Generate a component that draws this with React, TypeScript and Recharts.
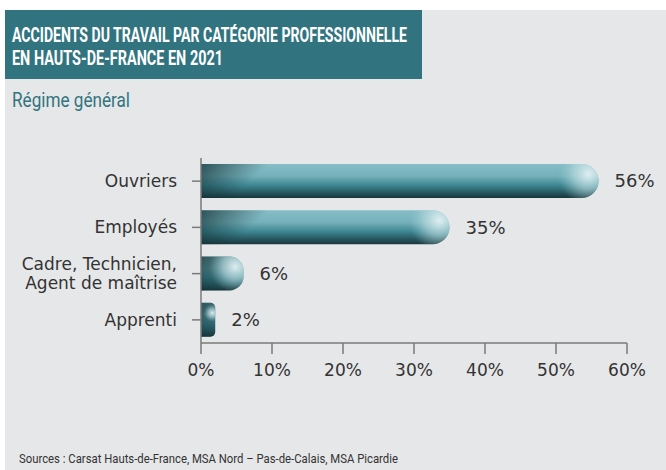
import { BarChart, Bar, XAxis, YAxis, LabelList } from 'recharts';

const categories = ['Ouvriers', 'Employés', 'Cadre, Technicien,\nAgent de maîtrise', 'Apprenti'];
const shares = [56, 35, 6, 2];
const xTicks = [0, 10, 20, 30, 40, 50, 60];

const data = categories.map((name, i) => ({ name, value: shares[i] }));

const TEAL = '#31747f';
const AXIS = '#7a7a7a';
const HEAD_FONT = 'Roboto, "DejaVu Sans", sans-serif';
const FONT = '"DejaVu Sans", Roboto, sans-serif';

// bar with square left end, rounded right end and some shading
function GlossyBar(props: any) {
  const { x, y, width, height, index } = props;
  if (!width || width <= 0) return null;
  const r = Math.min(height / 2, width / 3);
  const d = `M${x},${y} H${x + width - r} A${r},${r} 0 0 1 ${x + width},${y + r} V${y + height - r} A${r},${r} 0 0 1 ${x + width - r},${y + height} H${x} Z`;
  const id = `bar${index}`;
  return (
    <g>
      <defs>
        <linearGradient id={`${id}v`} x1="0" y1="0" x2="0" y2="1">
          <stop offset="0%" stopColor="#86bdc6" />
          <stop offset="35%" stopColor="#76b1bb" />
          <stop offset="62%" stopColor="#3e8893" />
          <stop offset="100%" stopColor="#18353b" />
        </linearGradient>
        <linearGradient id={`${id}l`} gradientUnits="userSpaceOnUse" x1={x} y1={y} x2={x + 32} y2={y + height}>
          <stop offset="0%" stopColor="#0f2e33" stopOpacity={0.75} />
          <stop offset="100%" stopColor="#0f2e33" stopOpacity={0} />
        </linearGradient>
        <radialGradient
          id={`${id}r`}
          gradientUnits="userSpaceOnUse"
          cx={x + width - r * 0.6}
          cy={y + height * 0.3}
          r={Math.max(r * 1.8, 6)}
        >
          <stop offset="0%" stopColor="#e4f2f4" stopOpacity={0.95} />
          <stop offset="50%" stopColor="#bcdde2" stopOpacity={0.6} />
          <stop offset="100%" stopColor="#8fc3cb" stopOpacity={0} />
        </radialGradient>
      </defs>
      <path d={d} fill={`url(#${id}v)`} />
      <path d={d} fill={`url(#${id}l)`} />
      <path d={d} fill={`url(#${id}r)`} />
    </g>
  );
}

function CategoryTick(props: any) {
  const { x, y, payload } = props;
  const lines = String(payload.value).split('\n');
  const lh = 19;
  const start = y - ((lines.length - 1) * lh) / 2;
  return (
    <text x={x} y={start} textAnchor="end" fill="#333" fontSize={17} fontFamily={FONT} dominantBaseline="central">
      {lines.map((l, i) => (
        <tspan key={i} x={x} y={start + i * lh}>
          {l}
        </tspan>
      ))}
    </text>
  );
}

export default function App() {
  return (
    <div style={{ position: 'absolute', left: 0, top: 0, width: 666, height: 470, background: '#fff', overflow: 'hidden' }}>
      <div style={{ position: 'absolute', left: 5, top: 10, width: 661, height: 460, background: '#e6e7e9' }} />
      <div style={{ position: 'absolute', left: 5, top: 10, width: 417, height: 69, background: TEAL }} />
      <svg width={666} height={470} style={{ position: 'absolute', left: 0, top: 0 }}>
        <text x={12} y={42} fill="#fff" fontSize={21} fontWeight={700} fontFamily={HEAD_FONT} textLength={395} lengthAdjust="spacingAndGlyphs">
          ACCIDENTS DU TRAVAIL PAR CATÉGORIE PROFESSIONNELLE
        </text>
        <text x={12} y={65} fill="#fff" fontSize={21} fontWeight={700} fontFamily={HEAD_FONT} textLength={211} lengthAdjust="spacingAndGlyphs">
          EN HAUTS-DE-FRANCE EN 2021
        </text>
        <text x={12} y={107} fill={TEAL} fontSize={20} fontFamily={HEAD_FONT} textLength={118} lengthAdjust="spacingAndGlyphs">
          Régime général
        </text>
        <text x={19} y={463} fill="#333" fontSize={13.5} fontFamily={HEAD_FONT} textLength={379} lengthAdjust="spacingAndGlyphs">
          Sources : Carsat Hauts-de-France, MSA Nord – Pas-de-Calais, MSA Picardie
        </text>
      </svg>
      <div style={{ position: 'absolute', left: 0, top: 0 }}>
        <BarChart
          width={666}
          height={470}
          data={data}
          layout="vertical"
          margin={{ top: 158, right: 39, left: 0, bottom: 95 }}
          barSize={34}
        >
          <XAxis
            type="number"
            domain={[0, 60]}
            ticks={xTicks}
            tickFormatter={(v) => `${v}%`}
            axisLine={{ stroke: AXIS, strokeWidth: 1.5 }}
            tickLine={{ stroke: AXIS, strokeWidth: 1.5 }}
            tickSize={11}
            tickMargin={10}
            height={32}
            tick={{ fill: '#333', fontSize: 17, fontFamily: FONT }}
            interval={0}
          />
          <YAxis
            type="category"
            dataKey="name"
            width={201}
            axisLine={{ stroke: AXIS, strokeWidth: 1.5 }}
            tickLine={{ stroke: AXIS, strokeWidth: 1.5 }}
            tickSize={9}
            tickMargin={15}
            tick={<CategoryTick />}
            interval={0}
          />
          <Bar dataKey="value" shape={<GlossyBar />} isAnimationActive={false}>
            <LabelList
              dataKey="value"
              position="right"
              offset={16}
              formatter={(v: any) => `${v}%`}
              fill="#333"
              fontSize={18}
              fontFamily={FONT}
            />
          </Bar>
        </BarChart>
      </div>
    </div>
  );
}
